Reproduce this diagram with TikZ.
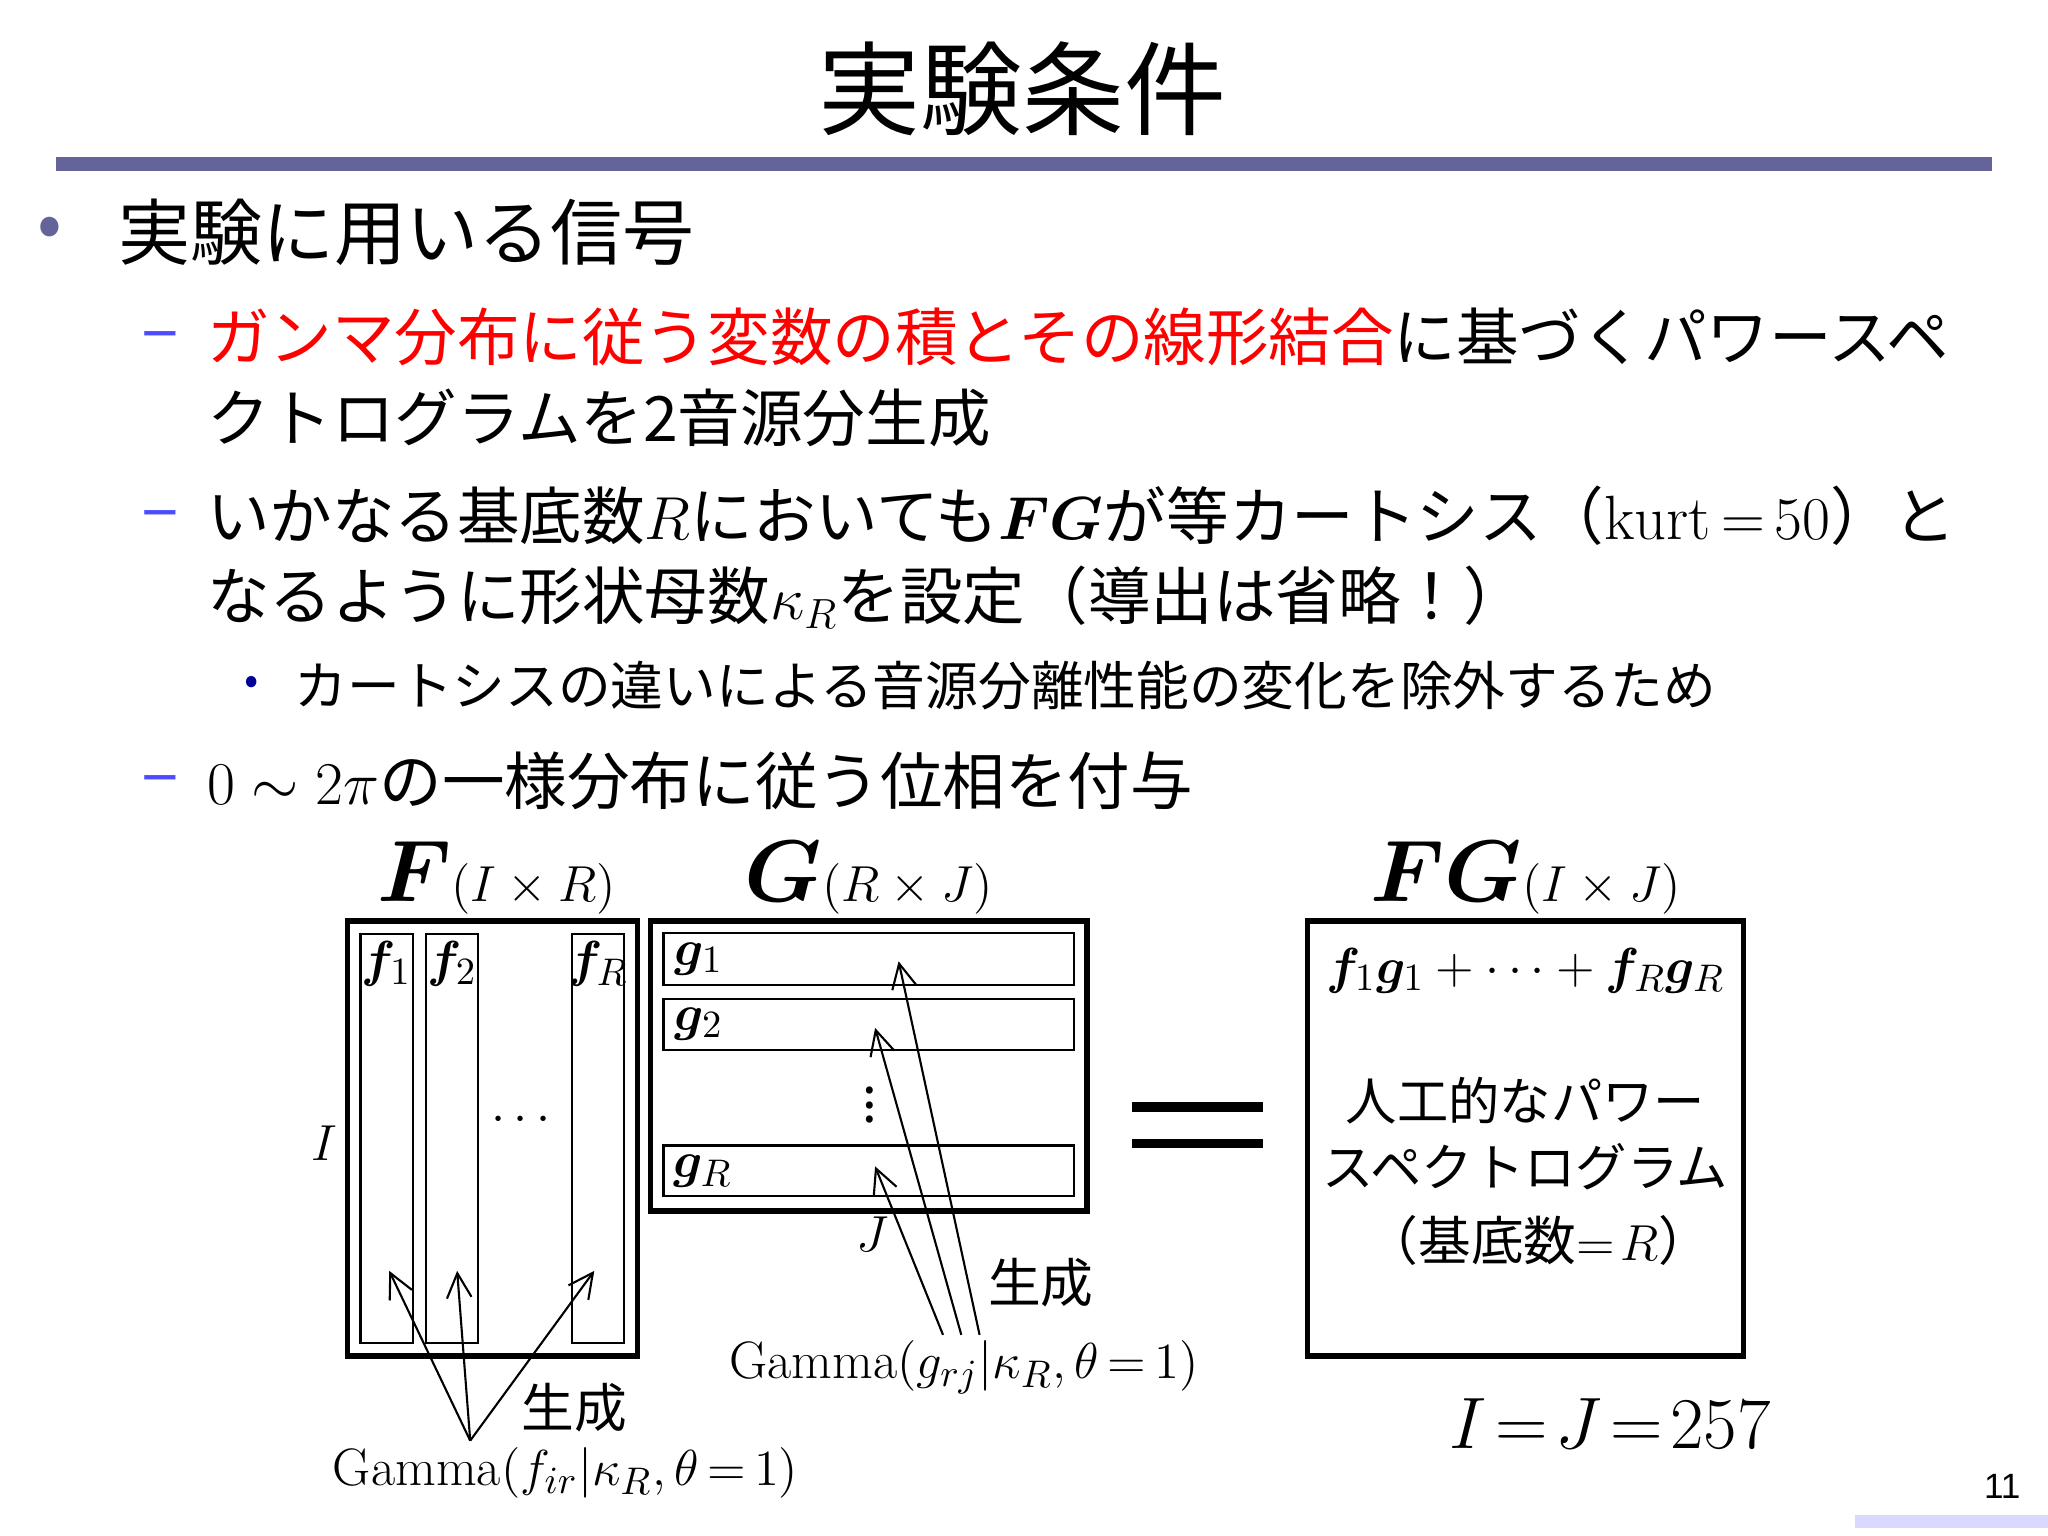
\documentclass[tikz,border=0pt]{standalone}
\usepackage{amsmath,bm}
\usepackage{fontspec}
\setmainfont{Noto Sans CJK JP}
\newfontfamily\lsans{Liberation Sans}
\newfontfamily\lmr{Latin Modern Roman}
\newcommand{\lmtxt}[1]{\text{\lmr #1}}
\usetikzlibrary{arrows.meta}
\tikzset{
  txt/.style={anchor=west,inner sep=0pt,font=\fontsize{17.8}{20}\selectfont},
  dashm/.style={anchor=west,inner sep=0pt,text=blue!70!white,font=\fontsize{20}{20}\selectfont},
  thickbox/.style={draw,line width=1.6pt},
  thinbox/.style={draw,line width=0.6pt},
  arr/.style={-{Straight Barb[length=7pt,width=7pt]},line width=0.6pt},
  mlab/.style={inner sep=0pt,font=\fontsize{15}{17}\selectfont},
}
\begin{document}
\begin{tikzpicture}[x=0.013061cm,y=-0.013061cm]
\useasboundingbox (0,0) rectangle (1568,1176);
\node[font=\fontsize{29}{32}\selectfont] (title) at (783,68) {実験条件};
\fill[fill={rgb,255:red,100;green,100;blue,155}] (43,120) rectangle (1525,131);
\node[text={rgb,255:red,100;green,100;blue,155},font=\huge] (b0) at (38,178) {•};
\node[anchor=west,inner sep=0pt,font=\fontsize{20.5}{24}\selectfont] (t0) at (90,178) {実験に用いる信号};
\node[dashm] (d1) at (108,262) {–};
\node[txt] (t1) at (158,258) {\textcolor{red}{ガンマ分布に従う変数の積とその線形結合}に基づくパワースペ};
\node[txt] (t1b) at (158,320) {クトログラムを2音源分生成};
\node[dashm] (d2) at (108,399) {–};
\node[txt] (t2) at (158,395) {いかなる基底数$R$においても$\bm{FG}$が等カートシス（$\lmtxt{kurt}\,{=}\,50$）と};
\node[txt] (t2b) at (158,457) {なるように形状母数$\kappa_R$を設定（導出は省略！）};
\node[anchor=center,text=blue!60!black,font=\large] (b3) at (193,525) {•};
\node[anchor=west,inner sep=0pt,font=\fontsize{15}{18}\selectfont] (t3) at (225,525) {カートシスの違いによる音源分離性能の変化を除外するため};
\node[dashm] (d4) at (108,602) {–};
\node[txt] (t4) at (158,598) {$0\sim2\pi$の一様分布に従う位相を付与};
% F
\node[mlab,anchor=base] (Fl) at (380,690) {$\mbox{\fontsize{27}{30}\selectfont$\bm{F}$}(I\times R)$};
\draw[thickbox] (266,705) rectangle (488,1038);
\draw[thinbox] (276,715) rectangle (316,1028);
\draw[thinbox] (326,715) rectangle (366,1028);
\draw[thinbox] (438,715) rectangle (478,1028);
\node[mlab] (f1) at (296,738) {$\bm{f}_1$};
\node[mlab] (f2) at (346,738) {$\bm{f}_2$};
\node[mlab] (fR) at (458,738) {$\bm{f}_R$};
\node[mlab] (fdots) at (402,858) {$\cdots$};
\node[mlab] (Il) at (248,875) {$I$};
% G
\node[mlab,anchor=base] (Gl) at (665,690) {$\mbox{\fontsize{27}{30}\selectfont$\bm{G}$}(R\times J)$};
\draw[thickbox] (498,705) rectangle (832,927);
\draw[thinbox] (508,714) rectangle (822,754);
\draw[thinbox] (508,765) rectangle (822,804);
\draw[thinbox] (508,877) rectangle (822,916);
\node[mlab] (g1) at (535,734) {$\bm{g}_1$};
\node[mlab] (g2) at (535,784) {$\bm{g}_2$};
\node[mlab] (gR) at (538,897) {$\bm{g}_R$};
\node[mlab] (gdots) at (666,838) {$\vdots$};
\node[mlab] (Jl) at (668,945) {$J$};
% arrows
\coordinate (Fs) at (360,1103);
\coordinate (Gs1) at (722,1022);
\coordinate (Gs2) at (736,1022);
\coordinate (Gs3) at (750,1022);
\coordinate (a1) at (298,973); \coordinate (a2) at (350,973); \coordinate (a3) at (455,973);
\coordinate (a4) at (670,893); \coordinate (a5) at (670,787); \coordinate (a6) at (688,736);
\foreach \p in {a1,a2,a3} \draw[arr] (Fs) -- (\p);
\draw[arr] (Gs1) -- (a4);
\draw[arr] (Gs2) -- (a5);
\draw[arr] (Gs3) -- (a6);
\node[mlab] (gen1) at (440,1078) {生成};
\node[mlab] (gen2) at (797,982) {生成};
\node[mlab] (gam1) at (433,1128) {$\lmtxt{Gamma}(f_{ir}|\kappa_R,\theta\,{=}\,1)$};
\node[mlab] (gam2) at (738,1047) {$\lmtxt{Gamma}(g_{rj}|\kappa_R,\theta\,{=}\,1)$};
% equals
\fill (867,844) rectangle (967,851);
\fill (867,872) rectangle (967,879);
% FG
\node[mlab,anchor=base] (FGl) at (1168,690) {$\mbox{\fontsize{27}{30}\selectfont$\bm{FG}$}(I\times J)$};
\draw[thickbox] (1001,705) rectangle (1335,1038);
\node[mlab] (sum) at (1168,743) {$\bm{f}_1\bm{g}_1+\cdots+\bm{f}_R\bm{g}_R$};
\node[mlab,font=\fontsize{14.6}{18}\selectfont] (j1) at (1168,843) {人工的なパワー};
\node[mlab,font=\fontsize{14.6}{18}\selectfont] (j2) at (1168,893) {スペクトログラム};
\node[mlab] (j3) at (1178,950) {（基底数$=\!R$）};
\node[inner sep=0pt,font=\fontsize{20}{24}\selectfont] (IJ) at (1233,1090) {$I\!=\!J\!=\!257$};
\node[font=\lsans\fontsize{10}{12}\selectfont] (pg) at (1533,1138) {11};
\fill[blue!15] (1420,1160) rectangle (1568,1170);
\end{tikzpicture}
\end{document}
